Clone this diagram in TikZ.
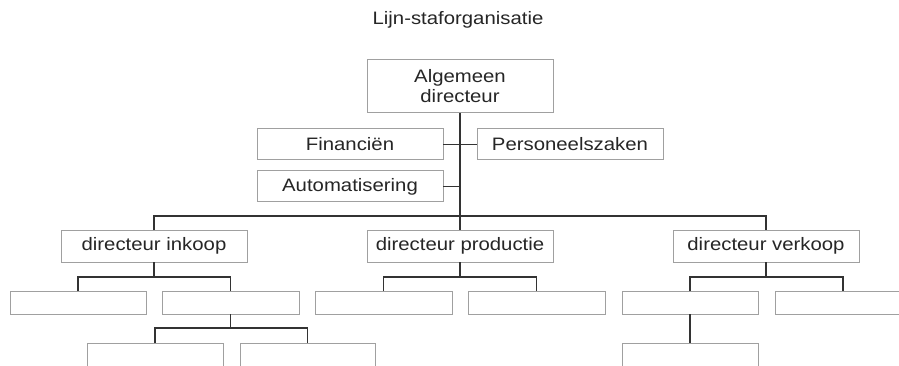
\documentclass[tikz,border=0pt]{standalone}
\usepackage{fontspec}
\setmainfont{Liberation Sans}[FakeStretch=1.13]
\begin{document}
\begin{tikzpicture}[x=1pt,y=-1pt,
  box/.style={draw=boxgrey,line width=1pt,fill=white,inner sep=0pt,outer sep=0pt,
    minimum height=31pt,minimum width=186pt,align=center,
    font=\fontsize{18}{20}\selectfont,text=black!85},
  small/.style={box,minimum width=136pt,minimum height=23pt},
  conn/.style={draw=black!80,line width=1.2pt},
  lbl/.style={font=\fontsize{18}{20}\selectfont,text=black!85,inner sep=0pt}]
\definecolor{boxgrey}{HTML}{A0A0A0}
\useasboundingbox (0,0) rectangle (899,366);
\node[lbl] (title) at (458,20) {Lijn-staforganisatie};
% top level
\node[box,minimum height=53pt] (top) at (460,86.5) {Algemeen\\directeur};
\node[box] (fin) at (350,144.5) {Financiën};
\node[box] (pers) at (570,144.5) {Personeelszaken};
\node[box] (aut) at (350,186.5) {Automatisering};
% directors
\node[box,minimum height=32pt] (di) at (154,246) {directeur inkoop};
\node[box,minimum height=32pt] (dp) at (460,246) {directeur productie};
\node[box,minimum height=32pt] (dv) at (766,246) {directeur verkoop};
% level 2
\node[small] (i1) at (78,302.5) {};
\node[small,minimum width=137pt] (i2) at (230.5,302.5) {};
\node[small,minimum width=137pt] (p1) at (383.5,302.5) {};
\node[small,minimum width=137pt] (p2) at (536.5,302.5) {};
\node[small] (v1) at (690,302.5) {};
\node[small] (v2) at (843,302.5) {};
% level 3
\node[small] (i3) at (155,354.5) {};
\node[small,minimum width=135pt] (i4) at (307.5,354.5) {};
\node[small] (v3) at (690,354.5) {};
% coordinates
\coordinate (b0) at (460,216);
\coordinate (ib) at (154,277);
\coordinate (pb) at (460,277);
\coordinate (vb) at (766,277);
\coordinate (i2b) at (230.5,328);
% connectors
\draw[conn] (top.south) -- (b0);
\draw[conn] (fin.east) -- (pers.west);
\draw[conn] (aut.east) -- (aut.east -| top.south);
\draw[conn] (di.north) |- (b0) -| (dv.north);
\draw[conn] (b0) -- (dp.north);
\draw[conn] (di.south) -- (ib);
\draw[conn] (i1.north) |- (ib) -| (i2.north);
\draw[conn] (dp.south) -- (pb);
\draw[conn] (p1.north) |- (pb) -| (p2.north);
\draw[conn] (dv.south) -- (vb);
\draw[conn] (v1.north) |- (vb) -| (v2.north);
\draw[conn] (i2.south) -- (i2b);
\draw[conn] (i3.north) |- (i2b) -| (i4.north);
\draw[conn] (v1.south) -- (v3.north);
\end{tikzpicture}
\end{document}
